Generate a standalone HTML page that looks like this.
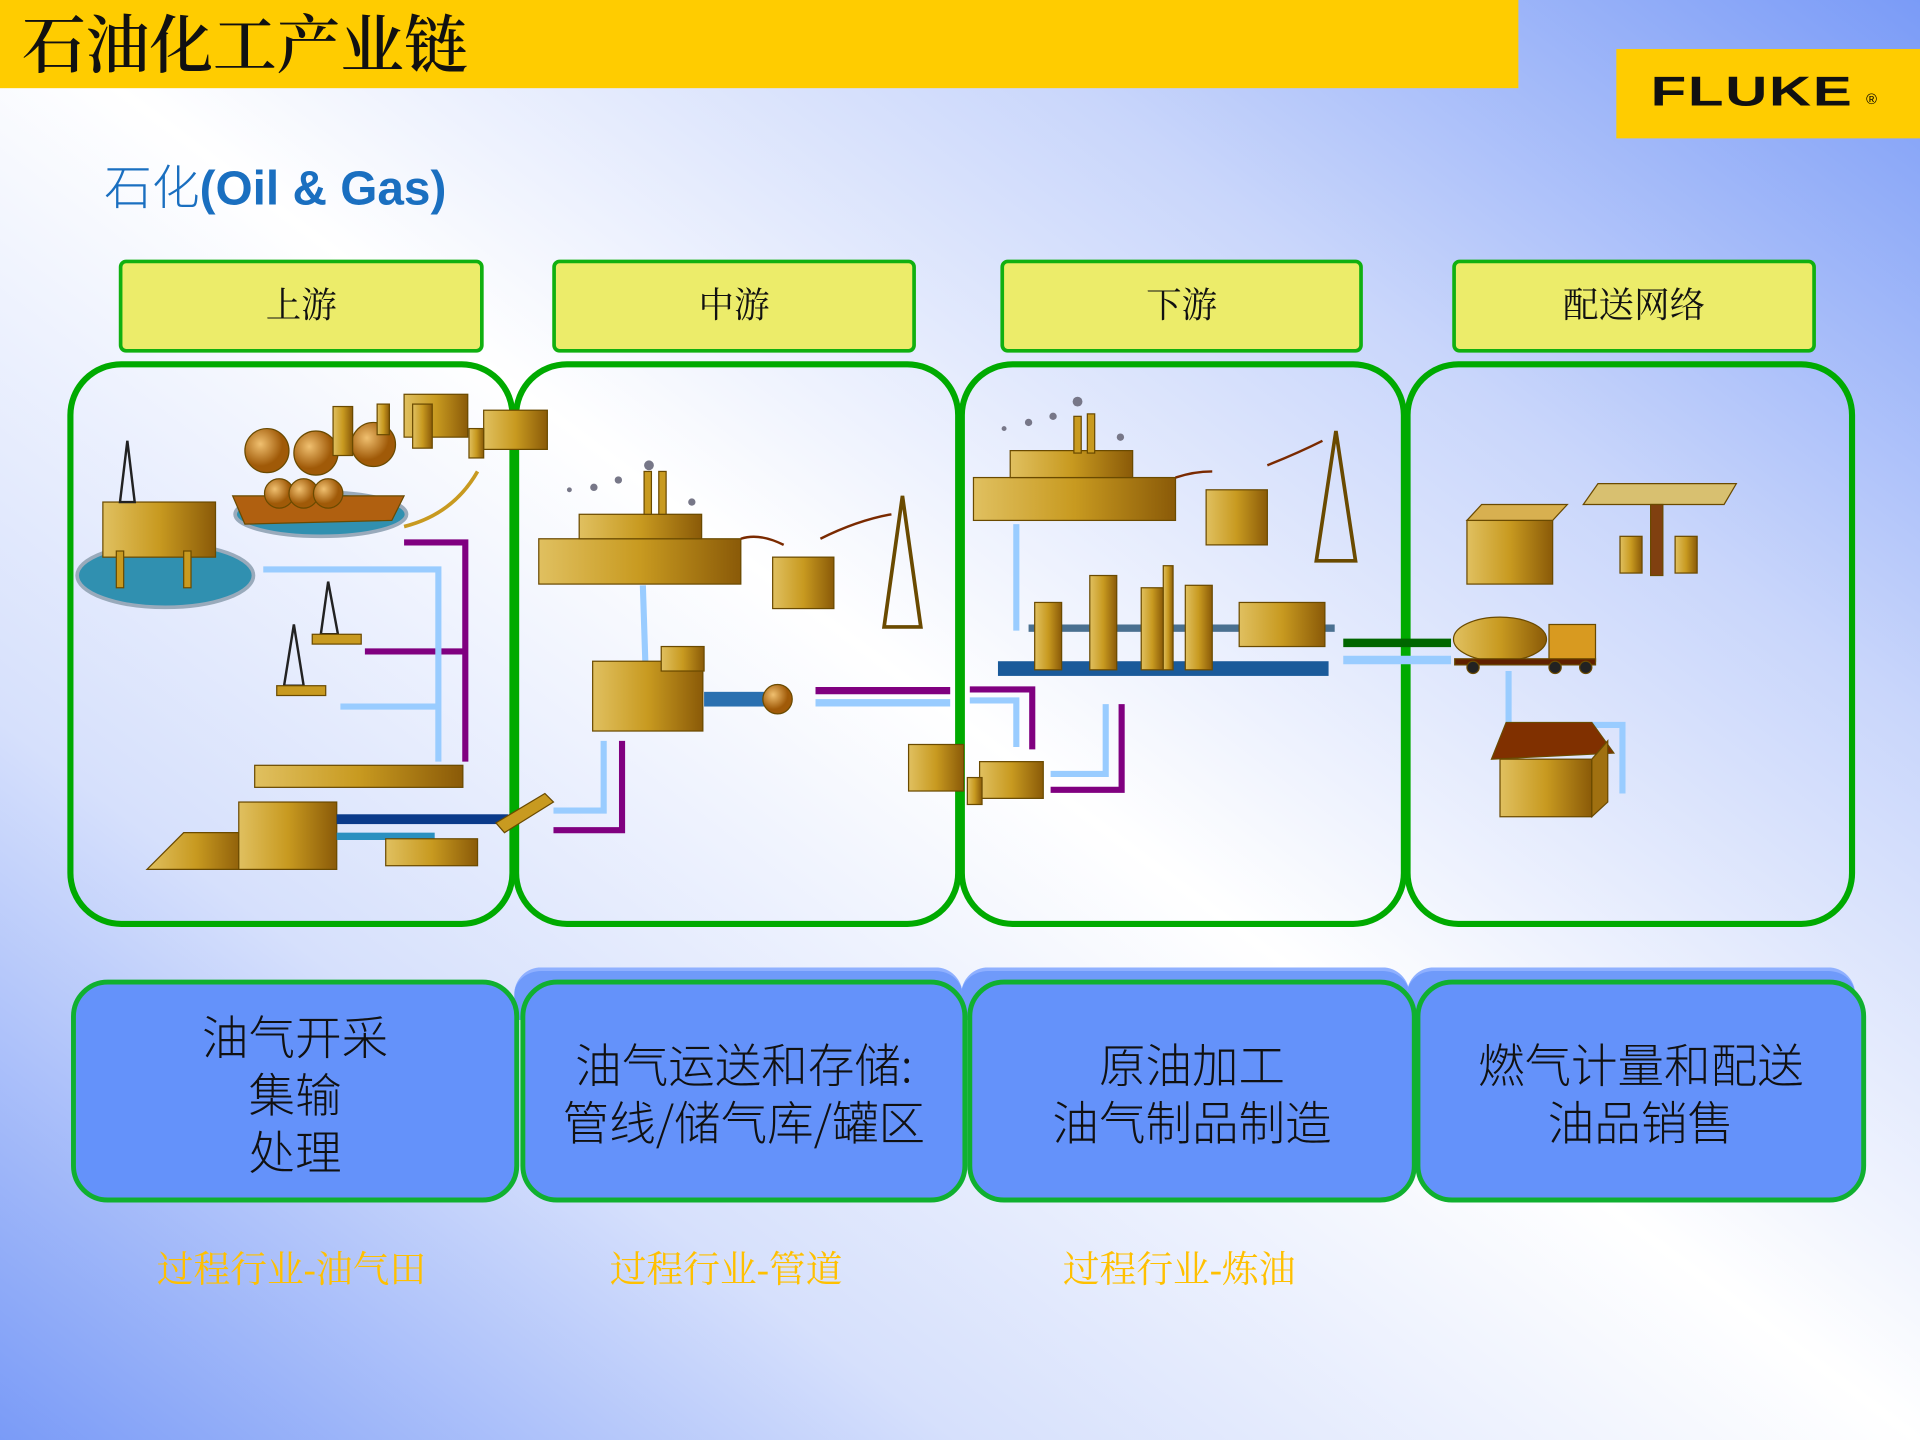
<!DOCTYPE html>
<html><head><meta charset="utf-8"><style>
html,body{margin:0;padding:0;width:1920px;height:1440px;overflow:hidden}
#bg{position:absolute;left:0;top:0;width:1920px;height:1440px;background:linear-gradient(to bottom left,#7a9bf7 0%,#c9d6fb 25%,#ffffff 50%,#d6e0fc 75%,#7a9bf7 100%)}
#s{position:absolute;left:0;top:0;width:1568px;height:1176px;transform:scale(1.22449);transform-origin:0 0;font-family:"Liberation Serif","Noto Serif CJK SC",serif}
.a{position:absolute}
.hdr{position:absolute;top:212px;height:70px;background:#ecec6a;border:3px solid #10b010;border-radius:6px;font-size:29px;text-align:center;line-height:70px;color:#111;box-sizing:content-box}
.pan{position:absolute;top:295px;height:462px;border:5px solid #00aa00;border-radius:44px;box-sizing:border-box}
.bb{position:absolute;top:800px;height:182px;background:#6492fa;border:4px solid #10b030;border-radius:30px;box-sizing:border-box;font-family:"Noto Sans CJK SC","WenQuanYi Zen Hei",sans-serif;font-size:38px;line-height:47px;color:#111;text-align:center;display:flex;align-items:center;justify-content:center;font-weight:300}
.tab{position:absolute;top:790px;height:40px;background:#6f9afa;border-radius:22px 22px 0 0;border-top:3px solid #8fb0ff}
.or{position:absolute;top:1012px;font-size:30px;color:#ffc000}
</style></head><body><div id="bg"></div>
<div id="s">
<div class="a" style="left:0;top:0;width:1240px;height:72px;background:#ffcc00"></div>
<div class="a" style="left:18px;top:2px;font-size:52px;color:#111;font-family:'Noto Serif CJK SC',serif;font-weight:600;line-height:62px">石油化工产业链</div>
<div class="a" style="left:1320px;top:40px;width:248px;height:73px;background:#ffcc00"></div>
<div class="a" style="left:1348px;top:56px;font-family:'Liberation Sans',sans-serif;font-weight:900;font-size:34px;letter-spacing:1px;color:#111;transform:scaleX(1.4);transform-origin:0 0">FLUKE</div>
<div class="a" style="left:1524px;top:74px;font-size:12px;font-family:'Liberation Sans',sans-serif">®</div>
<div class="a" style="left:85px;top:123px;font-size:39px;color:#1a6fc0;font-family:'Liberation Sans','Noto Sans CJK SC',sans-serif"><span style="font-family:'Noto Sans CJK SC',sans-serif;font-weight:300">石化</span><b>(Oil &amp; Gas)</b></div>

<div class="hdr" style="left:97px;width:292px">上游</div>
<div class="hdr" style="left:451px;width:291px">中游</div>
<div class="hdr" style="left:817px;width:290px">下游</div>
<div class="hdr" style="left:1186px;width:291px">配送网络</div>

<div class="pan" style="left:55px;width:366px"></div>
<div class="pan" style="left:419px;width:366px"></div>
<div class="pan" style="left:783px;width:366px"></div>
<div class="pan" style="left:1147px;width:368px"></div>

<div class="tab" style="left:420px;width:366px"></div>
<div class="tab" style="left:785px;width:366px"></div>
<div class="tab" style="left:1149px;width:366px"></div>
<div class="bb" style="left:58px;width:366px"><div>油气开采<br>集输<br>处理</div></div>
<div class="bb" style="left:425px;width:365px"><div>油气运送和存储:<br>管线/储气库/罐区</div></div>
<div class="bb" style="left:790px;width:367px"><div>原油加工<br>油气制品制造</div></div>
<div class="bb" style="left:1156px;width:368px"><div>燃气计量和配送<br>油品销售</div></div>

<div class="or" style="left:128px">过程行业-油气田</div>
<div class="or" style="left:498px">过程行业-管道</div>
<div class="or" style="left:868px">过程行业-炼油</div>

<svg class="a" style="left:0;top:0" width="1568" height="1176" viewBox="0 0 1568 1176">
<defs>
<linearGradient id="g" x1="0" x2="1"><stop offset="0" stop-color="#e0c060"/><stop offset=".5" stop-color="#c89a20"/><stop offset="1" stop-color="#8a5a08"/></linearGradient>
<radialGradient id="sp" cx=".35" cy=".35"><stop offset="0" stop-color="#f0c070"/><stop offset="1" stop-color="#a05a08"/></radialGradient>
</defs>
<g fill="none" stroke-width="5">
<polyline points="330,443 380,443 380,622" stroke="#800080"/>
<line x1="298" y1="532" x2="380" y2="532" stroke="#800080"/>
<polyline points="215,465 358,465 358,622" stroke="#99ccff"/>
<line x1="278" y1="577" x2="356" y2="577" stroke="#99ccff"/>
<line x1="525" y1="478" x2="527" y2="540" stroke="#99ccff"/>
<line x1="666" y1="564" x2="776" y2="564" stroke="#800080" stroke-width="6"/>
<line x1="666" y1="574" x2="776" y2="574" stroke="#99ccff" stroke-width="6"/>
<polyline points="508,605 508,678 452,678" stroke="#800080"/>
<polyline points="493,605 493,662 452,662" stroke="#99ccff"/>
<line x1="830" y1="428" x2="830" y2="515" stroke="#99ccff"/>
<polyline points="792,563 843,563 843,612" stroke="#800080"/>
<polyline points="792,572 830,572 830,610" stroke="#99ccff"/>
<polyline points="903,575 903,632 858,632" stroke="#99ccff"/>
<polyline points="916,575 916,645 858,645" stroke="#800080"/>
<line x1="1097" y1="525" x2="1185" y2="525" stroke="#006600" stroke-width="7"/>
<line x1="1097" y1="539" x2="1185" y2="539" stroke="#99ccff" stroke-width="7"/>
<line x1="1232" y1="548" x2="1232" y2="590" stroke="#99ccff"/>
<polyline points="1300,592 1325,592 1325,648" stroke="#99ccff"/>
</g>
<g stroke="#6a4a00" stroke-width="1">
<ellipse cx="135" cy="470" rx="72" ry="26" fill="#3090b0" stroke="#9ab" stroke-width="3"/>
<rect x="84" y="410" width="92" height="45" fill="url(#g)"/>
<rect x="95" y="450" width="6" height="30" fill="#c89a20"/><rect x="150" y="450" width="6" height="30" fill="#c89a20"/>
<polygon points="98,410 104,360 110,410" fill="none" stroke="#222" stroke-width="2"/>
<ellipse cx="262" cy="420" rx="70" ry="18" fill="#3090b0" stroke="#9ab" stroke-width="3"/>
<path d="M190,405 L330,405 L320,425 L200,428 Z" fill="#b06010"/>
<circle cx="228" cy="403" r="12" fill="url(#sp)"/><circle cx="248" cy="403" r="12" fill="url(#sp)"/><circle cx="268" cy="403" r="12" fill="url(#sp)"/>
<circle cx="218" cy="368" r="18" fill="url(#sp)"/><circle cx="258" cy="370" r="18" fill="url(#sp)"/><circle cx="305" cy="363" r="18" fill="url(#sp)"/>
<rect x="272" y="332" width="16" height="40" fill="url(#g)"/><rect x="308" y="330" width="10" height="25" fill="url(#g)"/>
<rect x="330" y="322" width="52" height="35" fill="url(#g)"/><rect x="337" y="330" width="16" height="36" fill="url(#g)"/>
<rect x="395" y="335" width="52" height="32" fill="url(#g)"/><rect x="383" y="350" width="12" height="24" fill="url(#g)"/>
<path d="M330,430 Q370,420 390,385" stroke="#c89a20" stroke-width="3" fill="none"/>
<polygon points="232,560 240,510 248,560" fill="none" stroke="#222" stroke-width="2"/>
<rect x="226" y="560" width="40" height="8" fill="#c89a20"/>
<polygon points="262,518 268,475 276,518" fill="none" stroke="#222" stroke-width="2"/>
<rect x="255" y="518" width="40" height="8" fill="#c89a20"/>
<rect x="208" y="625" width="170" height="18" fill="url(#g)"/>
<polygon points="120,710 150,680 200,680 200,710" fill="url(#g)"/>
<rect x="195" y="655" width="80" height="55" fill="url(#g)"/>
<rect x="275" y="665" width="140" height="8" fill="#0a3a8a" stroke="none"/>
<rect x="275" y="680" width="80" height="6" fill="#2a90c0" stroke="none"/>
<rect x="315" y="685" width="75" height="22" fill="url(#g)"/>
<polygon points="405,672 445,648 452,655 412,680" fill="#c89a20"/>
<rect x="440" y="440" width="165" height="37" fill="url(#g)"/>
<rect x="473" y="420" width="100" height="20" fill="url(#g)"/>
<rect x="526" y="385" width="6" height="35" fill="#c89a20"/><rect x="538" y="385" width="6" height="35" fill="#c89a20"/>
<g fill="#778" stroke="none"><circle cx="465" cy="400" r="2"/><circle cx="485" cy="398" r="3"/><circle cx="505" cy="392" r="3"/><circle cx="530" cy="380" r="4"/><circle cx="565" cy="410" r="3"/></g>
<rect x="631" y="455" width="50" height="42" fill="url(#g)"/>
<path d="M605,440 Q620,435 640,445 M670,440 Q700,425 728,420" stroke="#7a2a00" fill="none" stroke-width="2"/>
<polygon points="722,512 737,405 752,512" fill="none" stroke="#6a4a00" stroke-width="3"/>
<rect x="484" y="540" width="90" height="57" fill="url(#g)"/>
<rect x="540" y="528" width="35" height="20" fill="url(#g)"/>
<rect x="575" y="565" width="50" height="12" fill="#2a70b0" stroke="none"/>
<circle cx="635" cy="571" r="12" fill="url(#sp)"/>
<rect x="742" y="608" width="45" height="38" fill="url(#g)"/>
<rect x="800" y="622" width="52" height="30" fill="url(#g)"/><rect x="790" y="635" width="12" height="22" fill="url(#g)"/>
<rect x="795" y="390" width="165" height="35" fill="url(#g)"/>
<rect x="825" y="368" width="100" height="22" fill="url(#g)"/>
<rect x="877" y="340" width="6" height="30" fill="#c89a20"/><rect x="888" y="338" width="6" height="32" fill="#c89a20"/>
<g fill="#778" stroke="none"><circle cx="820" cy="350" r="2"/><circle cx="840" cy="345" r="3"/><circle cx="860" cy="340" r="3"/><circle cx="880" cy="328" r="4"/><circle cx="915" cy="357" r="3"/></g>
<rect x="985" y="400" width="50" height="45" fill="url(#g)"/>
<path d="M960,390 Q975,385 990,385 M1035,380 Q1060,370 1080,360" stroke="#7a2a00" fill="none" stroke-width="2"/>
<polygon points="1075,458 1091,352 1107,458" fill="none" stroke="#6a4a00" stroke-width="3"/>
<rect x="815" y="540" width="270" height="12" fill="#1a5a9a" stroke="none"/>
<rect x="840" y="510" width="250" height="6" fill="#4a7090" stroke="none"/>
<rect x="845" y="492" width="22" height="55" fill="url(#g)"/>
<rect x="890" y="470" width="22" height="77" fill="url(#g)"/>
<rect x="932" y="480" width="18" height="67" fill="url(#g)"/>
<rect x="950" y="462" width="8" height="85" fill="url(#g)"/>
<rect x="968" y="478" width="22" height="69" fill="url(#g)"/>
<rect x="1012" y="492" width="70" height="36" fill="url(#g)"/>
<rect x="1198" y="425" width="70" height="52" fill="url(#g)"/>
<polygon points="1210,412 1280,412 1268,425 1198,425" fill="#d8b050"/>
<polygon points="1305,395 1418,395 1408,412 1293,412" fill="#d8c070"/>
<rect x="1348" y="412" width="10" height="58" fill="#804010"/>
<rect x="1323" y="438" width="18" height="30" fill="url(#g)"/><rect x="1368" y="438" width="18" height="30" fill="url(#g)"/>
<ellipse cx="1225" cy="522" rx="38" ry="18" fill="url(#g)"/>
<rect x="1265" y="510" width="38" height="30" fill="#d89a20"/>
<rect x="1188" y="538" width="115" height="5" fill="#602000"/>
<circle cx="1203" cy="545" r="5" fill="#222"/><circle cx="1270" cy="545" r="5" fill="#222"/><circle cx="1295" cy="545" r="5" fill="#222"/>
<polygon points="1230,590 1300,590 1318,615 1218,620" fill="#803000"/>
<rect x="1225" y="620" width="75" height="47" fill="url(#g)"/>
<polygon points="1300,620 1313,605 1313,655 1300,667" fill="#a07010"/>
</g>
</svg>
</div>
</body></html>
